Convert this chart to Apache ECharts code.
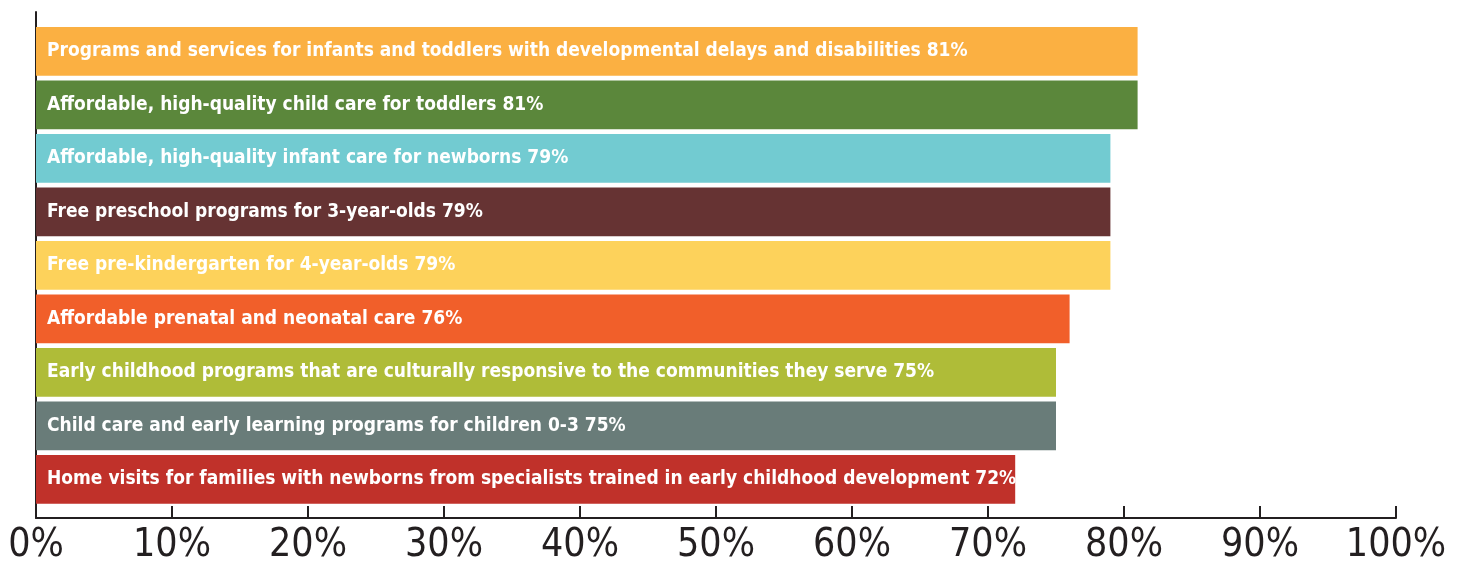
<!DOCTYPE html>
<html>
<head>
<meta charset="utf-8">
<script src="https://cdn.jsdelivr.net/npm/echarts@6/dist/echarts.min.js"></script>
<style>
html,body{margin:0;padding:0;background:#fff;}
#chart{width:1461px;height:565px;}
</style>
</head>
<body>
<div id="chart"></div>
<script>
const categories = [
  "Programs and services for infants and toddlers with developmental delays and disabilities",
  "Affordable, high-quality child care for toddlers",
  "Affordable, high-quality infant care for newborns",
  "Free preschool programs for 3-year-olds",
  "Free pre-kindergarten for 4-year-olds",
  "Affordable prenatal and neonatal care",
  "Early childhood programs that are culturally responsive to the communities they serve",
  "Child care and early learning programs for children 0-3",
  "Home visits for families with newborns from specialists trained in early childhood development"
];
const values = [81, 81, 79, 79, 79, 76, 75, 75, 72];
const barColors = ["#FBB042", "#5B873B", "#72CBD1", "#663333", "#FDD25B", "#F15F2A", "#AFBC38", "#697C79", "#C0312A"];
const xTicks = [0, 10, 20, 30, 40, 50, 60, 70, 80, 90, 100];

const FONT = '"Liberation Sans Narrow", "DejaVu Sans Condensed", "Liberation Sans", sans-serif';
const AX = '#231F20';

const chart = echarts.init(document.getElementById('chart'), null, {renderer: 'canvas'});
chart.setOption({
  animation: false,
  backgroundColor: '#fff',
  grid: [
    {left: 36, right: 65, top: 12, bottom: 47, containLabel: false},
    {left: 36, right: 65, top: 24.6, bottom: 58.9, containLabel: false}
  ],
  xAxis: [
    {
      gridIndex: 0, type: 'value', min: xTicks[0], max: xTicks[xTicks.length - 1], interval: 10,
      axisLine: {show: true, onZero: false, lineStyle: {color: AX, width: 2}},
      axisTick: {show: true, inside: true, length: 12, lineStyle: {color: AX, width: 2}},
      splitLine: {show: false},
      axisLabel: {formatter: '{value}%', fontFamily: FONT, fontSize: 39, color: AX, margin: 8}
    },
    {
      gridIndex: 1, type: 'value', min: xTicks[0], max: xTicks[xTicks.length - 1],
      show: false
    }
  ],
  yAxis: [
    {
      gridIndex: 0, type: 'value', min: 0, max: 1,
      axisLine: {show: true, onZero: false, lineStyle: {color: AX, width: 2}},
      axisTick: {show: false}, axisLabel: {show: false}, splitLine: {show: false}
    },
    {
      gridIndex: 1, type: 'category', data: categories, inverse: true,
      axisLine: {show: false}, axisTick: {show: false}, axisLabel: {show: false}
    }
  ],
  series: [{
    type: 'bar',
    xAxisIndex: 1, yAxisIndex: 1,
    barWidth: 48.7,
    z: 1,
    data: values.map((v, i) => ({value: v, itemStyle: {color: barColors[i]}})),
    label: {
      show: true,
      position: 'insideLeft',
      distance: 11,
      color: '#fff',
      fontFamily: FONT,
      fontWeight: 'bold',
      fontSize: 19,
      overflow: 'none',
      formatter: p => categories[p.dataIndex] + ' ' + p.value + '%'
    }
  }]
});
</script>
</body>
</html>
